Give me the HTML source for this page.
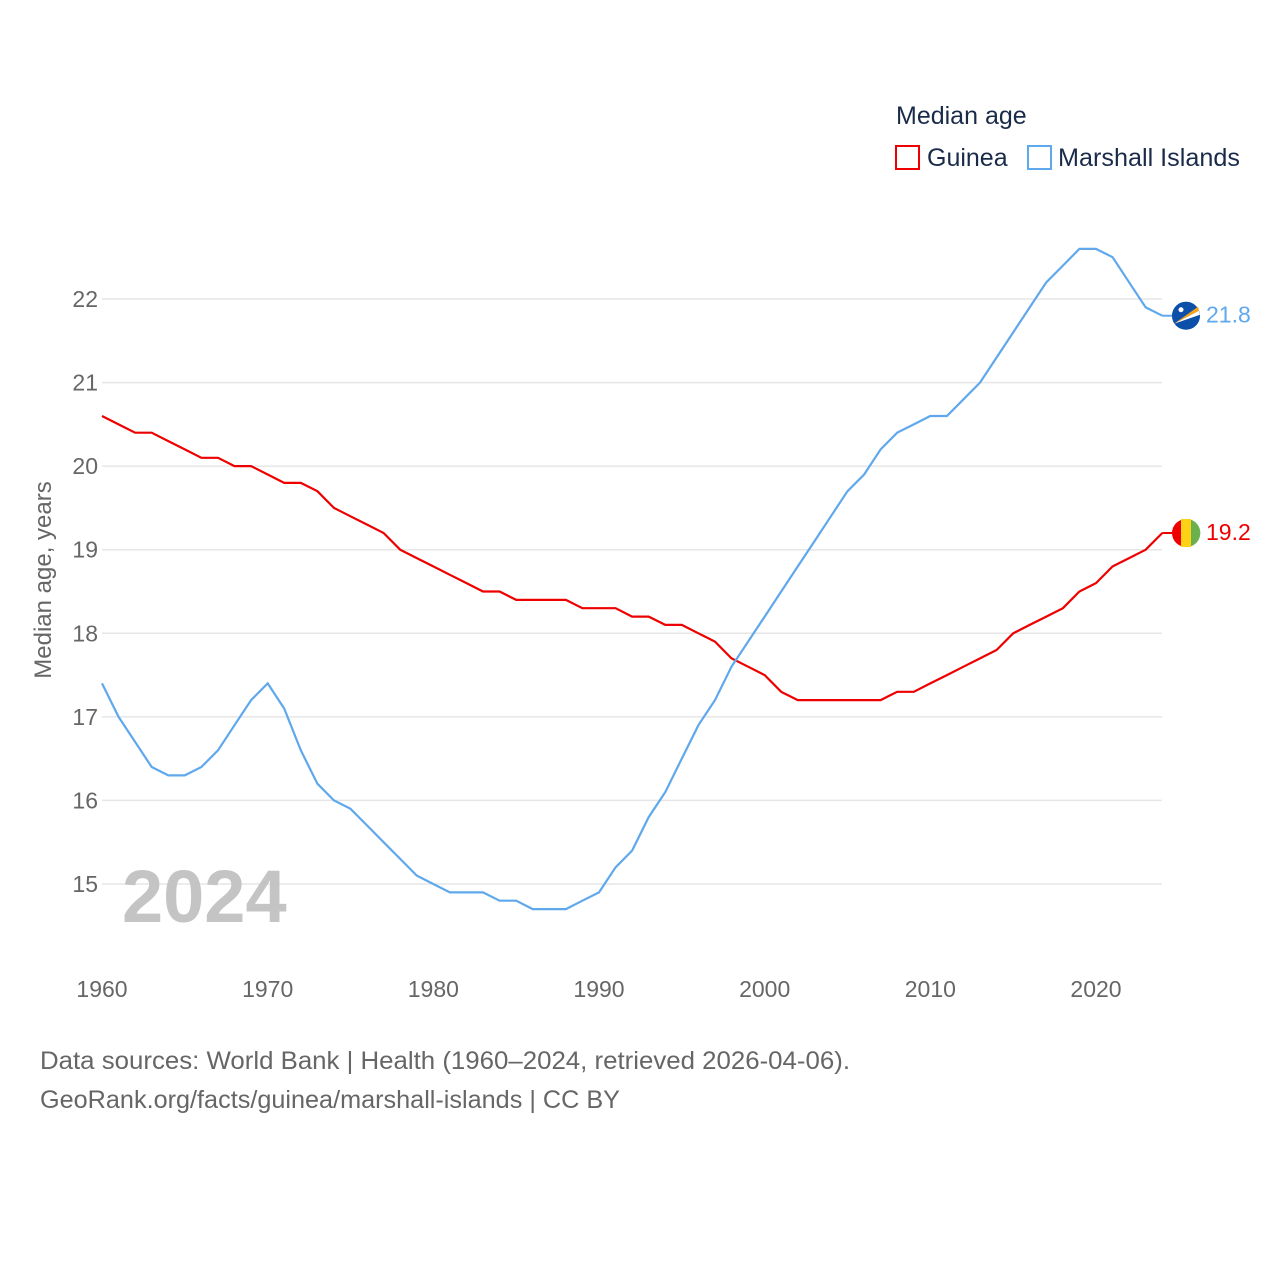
<!DOCTYPE html>
<html><head><meta charset="utf-8"><style>
body{margin:0;background:#fff;font-family:"Liberation Sans",sans-serif;}
svg text{font-family:"Liberation Sans",sans-serif;}
</style></head><body>
<svg id="chart" width="1280" height="1280" viewBox="0 0 1280 1280">
<text x="896" y="124" font-size="25" fill="#1a2b4a">Median age</text>
<g><rect x="896" y="146" width="23" height="23" fill="none" stroke="#ee0000" stroke-width="2"/><text x="927" y="166" font-size="25" fill="#1a2b4a">Guinea</text></g>
<g><rect x="1028" y="146" width="23" height="23" fill="none" stroke="#5fa8ec" stroke-width="2"/><text x="1058" y="166" font-size="25" fill="#1a2b4a" textLength="182" lengthAdjust="spacingAndGlyphs">Marshall Islands</text></g>
<g id="grid"></g><g id="xt"></g>
<text x="122" y="922" font-size="74" font-weight="bold" fill="#c4c4c4">2024</text>
<text transform="translate(51,580) rotate(-90)" text-anchor="middle" font-size="24" fill="#666">Median age, years</text>
<g id="lines"></g>
<text x="40" y="1069" font-size="25" fill="#666" textLength="810" lengthAdjust="spacingAndGlyphs">Data sources: World Bank | Health (1960–2024, retrieved 2026-04-06).</text>
<text x="40" y="1108" font-size="25" fill="#666" textLength="580" lengthAdjust="spacingAndGlyphs">GeoRank.org/facts/guinea/marshall-islands | CC BY</text>
</svg>
<script>
const years=[];for(let y=1960;y<=2024;y++)years.push(y);
const guinea=[20.6,20.5,20.4,20.4,20.3,20.2,20.1,20.1,20.0,20.0,19.9,19.8,19.8,19.7,19.5,19.4,19.3,19.2,19.0,18.9,18.8,18.7,18.6,18.5,18.5,18.4,18.4,18.4,18.4,18.3,18.3,18.3,18.2,18.2,18.1,18.1,18.0,17.9,17.7,17.6,17.5,17.3,17.2,17.2,17.2,17.2,17.2,17.2,17.3,17.3,17.4,17.5,17.6,17.7,17.8,18.0,18.1,18.2,18.3,18.5,18.6,18.8,18.9,19.0,19.2];
const marshall=[17.4,17.0,16.7,16.4,16.3,16.3,16.4,16.6,16.9,17.2,17.4,17.1,16.6,16.2,16.0,15.9,15.7,15.5,15.3,15.1,15.0,14.9,14.9,14.9,14.8,14.8,14.7,14.7,14.7,14.8,14.9,15.2,15.4,15.8,16.1,16.5,16.9,17.2,17.6,17.9,18.2,18.5,18.8,19.1,19.4,19.7,19.9,20.2,20.4,20.5,20.6,20.6,20.8,21.0,21.3,21.6,21.9,22.2,22.4,22.6,22.6,22.5,22.2,21.9,21.8];
const yTicks=[15,16,17,18,19,20,21,22];
const xTicks=[1960,1970,1980,1990,2000,2010,2020];
const X=y=>102+(y-1960)*994/60, Y=v=>884-(v-15)*585/7;
const NS="http://www.w3.org/2000/svg";
function mk(t,a,p){const e=document.createElementNS(NS,t);for(const k in a)e.setAttribute(k,a[k]);p.appendChild(e);return e;}
const grid=document.getElementById('grid'),xt=document.getElementById('xt'),lines=document.getElementById('lines');
yTicks.forEach(v=>{const l=mk('line',{x1:102,x2:1162,y1:Y(v),y2:Y(v),stroke:'#e6e6e6','stroke-width':1.5},grid);


const t=mk('text',{x:98,y:Y(v)+8,'text-anchor':'end','font-size':23,fill:'#666'},grid);t.textContent=v;

});
xTicks.forEach(v=>{const t=mk('text',{x:X(v),y:997,'text-anchor':'middle','font-size':23,fill:'#666'},xt);t.textContent=v;

});
function series(vals,col,name){const p=mk('path',{d:vals.map((v,i)=>(i?'L':'M')+X(years[i]).toFixed(1)+','+Y(v).toFixed(1)).join(''),fill:'none',stroke:col,'stroke-width':2.2},lines);


const last=vals[vals.length-1],ly=Y(last);
mk('line',{x1:X(2024),x2:1172,y1:ly,y2:ly,stroke:col,'stroke-width':2},lines);
const c=mk('circle',{cx:1186,cy:ly,r:14,fill:col},lines);


const t=mk('text',{x:1206,y:ly+7,'font-size':23,fill:col},lines);t.textContent=last.toFixed(1);


return ly;}
series(guinea,'#ee0000','guinea');
const gy=Y(guinea[guinea.length-1]);
mk('rect',{x:1181,y:gy-14,width:10,height:28,fill:'#fcd116'},lines);
mk('path',{d:`M1191,${gy-13.2}A14,14 0 0 1 1191,${gy+13.2}Z`,fill:'#6ab04c'},lines);
series(marshall,'#5fa8ec','marshall-islands');
const my=Y(marshall[marshall.length-1]);
mk('circle',{cx:1186,cy:my,r:14,fill:'#0b4fa8'},lines);
mk('path',{d:`M1174,${my+8}L1198,${my-9}L1199,${my-5}Z`,fill:'#f7a21b'},lines);
mk('path',{d:`M1174,${my+8}L1199,${my-5}L1200,${my-1}Z`,fill:'#fff'},lines);
mk('circle',{cx:1181,cy:my-6,r:2.5,fill:'#fff'},lines);
</script>
</body></html>
